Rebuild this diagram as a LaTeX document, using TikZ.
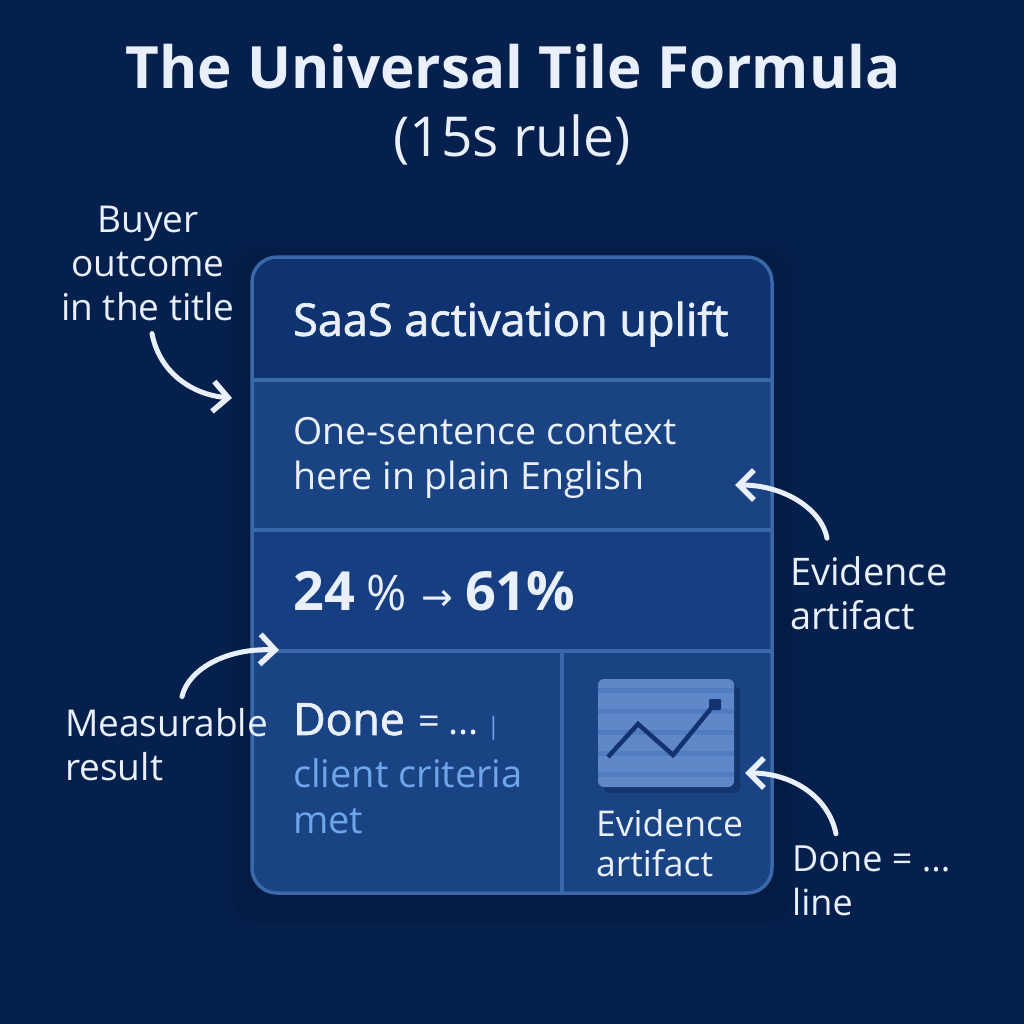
\documentclass[tikz,border=0pt]{standalone}
\usepackage{fontspec}
\setmainfont{Open Sans}
\newfontfamily\semifont[FakeBold=1.6]{Open Sans}
\newfontfamily\symfont{DejaVu Sans}
\usetikzlibrary{arrows.meta,positioning,calc}
\definecolor{bgnavy}{HTML}{06204E}
\definecolor{dropshade}{HTML}{041A40}
\definecolor{cellA}{HTML}{0F3370}
\definecolor{cellB}{HTML}{1A4383}
\definecolor{cellC}{HTML}{163E80}
\definecolor{cellD}{HTML}{1A4384}
\definecolor{edge}{HTML}{3A68A9}
\definecolor{ink}{HTML}{E9F0FB}
\definecolor{sky}{HTML}{6FA5EA}
\definecolor{tile}{HTML}{6088C9}
\definecolor{stripe}{HTML}{527CC0}
\definecolor{plot}{HTML}{12336F}

\begin{document}
\begin{tikzpicture}[
    x=1pt, y=-1pt,
    cell/.style={anchor=north west, inner sep=0pt, outer sep=0pt},
    txt/.style={anchor=west, align=left, inner sep=0pt, text=ink},
    callout/.style={txt, font=\fontsize{37}{44}\selectfont},
    line/.style={-{Straight Barb[length=15pt,width=30pt,line width=5.5pt]}, line width=5pt, ink, line cap=round}
]
    \fill[bgnavy] (0,0) rectangle (1024,1024);

    % soft shadow under the tile
    \foreach \g in {26,20,14,8}
        \fill[dropshade, opacity=0.22, rounded corners=30pt] (252-\g,257-\g+10) rectangle (772+\g,893+\g+10);

    % heading
    \node[txt, anchor=center, font=\fontsize{58.3}{60}\selectfont\bfseries] (heading) at (513,67) {The Universal Tile Formula};
    \node[txt, anchor=center, font=\fontsize{55}{56}\selectfont] (subheading) at (512,140) {(15s rule)};

    % tile cells
    \begin{scope}
        \clip[rounded corners=25pt] (252,257) rectangle (772,893);
        \node[cell, fill=cellA, minimum width=520pt, minimum height=123pt] (titlecell) at (252,257) {};
        \node[cell, fill=cellB, minimum width=520pt, minimum height=150pt] (contextcell) at (252,380) {};
        \node[cell, fill=cellC, minimum width=520pt, minimum height=121pt] (resultcell) at (252,530) {};
        \node[cell, fill=cellD, minimum width=310pt, minimum height=242pt] (donecell) at (252,651) {};
        \node[cell, fill=cellD, minimum width=210pt, minimum height=242pt] (artifactcell) at (562,651) {};
    \end{scope}
    \draw[edge, line width=3.5pt] (titlecell.south west) -- (titlecell.south east);
    \draw[edge, line width=3.5pt] (contextcell.south west) -- (contextcell.south east);
    \draw[edge, line width=3.5pt] (resultcell.south west) -- (resultcell.south east);
    \draw[edge, line width=3.5pt] (donecell.north east) -- (donecell.south east);
    \draw[edge, line width=3.5pt, rounded corners=25pt] (252,257) rectangle (772,893);

    % tile text
    \node[txt, font=\fontsize{45}{48}\selectfont\semifont] (titletext) at (293,324) {SaaS activation uplift};
    \node[txt, font=\fontsize{37.5}{44.5}\selectfont] (contexttext) at (293,458) {One-sentence context\\here in plain English};
    \node[txt, font=\fontsize{54}{56}\selectfont\bfseries] (resulttext) at (293,591) {24\hspace{12pt}{\fontsize{49}{40}\selectfont\mdseries\%}\hspace{14pt}{\fontsize{38}{40}\selectfont\mdseries\symfont →}\hspace{12pt}61\%};
    \node[txt, font=\fontsize{44.5}{48}\selectfont\semifont] (donetext) at (293,722) {Done\hspace{14pt}{\fontsize{38}{40}\selectfont\normalfont=\hspace{8pt}...\hspace{8pt}{\fontsize{24}{40}\selectfont\color{sky}|}}};
    \node[txt, text=sky, font=\fontsize{38}{46}\selectfont] (criteria) at (293,796) {client criteria\\met};

    % evidence chart
    \fill[dropshade, opacity=0.3, rounded corners=6pt] (604,686) rectangle (740,793);
    \node[cell, fill=tile, rounded corners=6pt, minimum width=136pt, minimum height=108pt] (chart) at (598,679) {};
    \foreach \y in {690,711,732,753,774}
        \fill[stripe] (chart.west |- 0,\y-2.5) rectangle (chart.east |- 0,\y+2.5);
    \draw[plot, line width=4.5pt, line join=miter] (608,757) -- (638,724) -- (673,755) -- (713,706);
    \fill[plot, rounded corners=1pt] (709,699) rectangle (721,710);
    \node[txt, font=\fontsize{35.5}{40}\selectfont] (artifacttext) at (596,843) {Evidence\\artifact};

    % callouts
    \node[callout, anchor=center, align=center] (buyer) at (148,263) {Buyer\\outcome\\in the title};
    \node[callout, font=\fontsize{38}{44}\selectfont] (evidence) at (790,593) {Evidence\\artifact};
    \node[callout] (measurable) at (65,745) {Measurable\\result};
    \node[callout, font=\fontsize{36}{44}\selectfont] (doneline) at (792,881) {Done = ...\\line};

    \coordinate (buyertip) at (232,398);
    \coordinate (evidencetip) at (735,485);
    \coordinate (measurabletip) at (279,650);
    \coordinate (chartedge) at (745,773);

    \draw[line] ($(buyer.south)+(4,13)$) .. controls (160,375) and (195,395) .. (buyertip);
    \draw[line] ($(evidence.north west)+(37,-18)$) .. controls (822,510) and (785,485) .. (evidencetip);
    \draw[line] ($(measurable.north west)+(117,-12)$) .. controls (188,670) and (225,648) .. (measurabletip);
    \draw[line] ($(doneline.north west)+(44,-12)$) .. controls (828,795) and (790,773) .. (chartedge);
\end{tikzpicture}
\end{document}
